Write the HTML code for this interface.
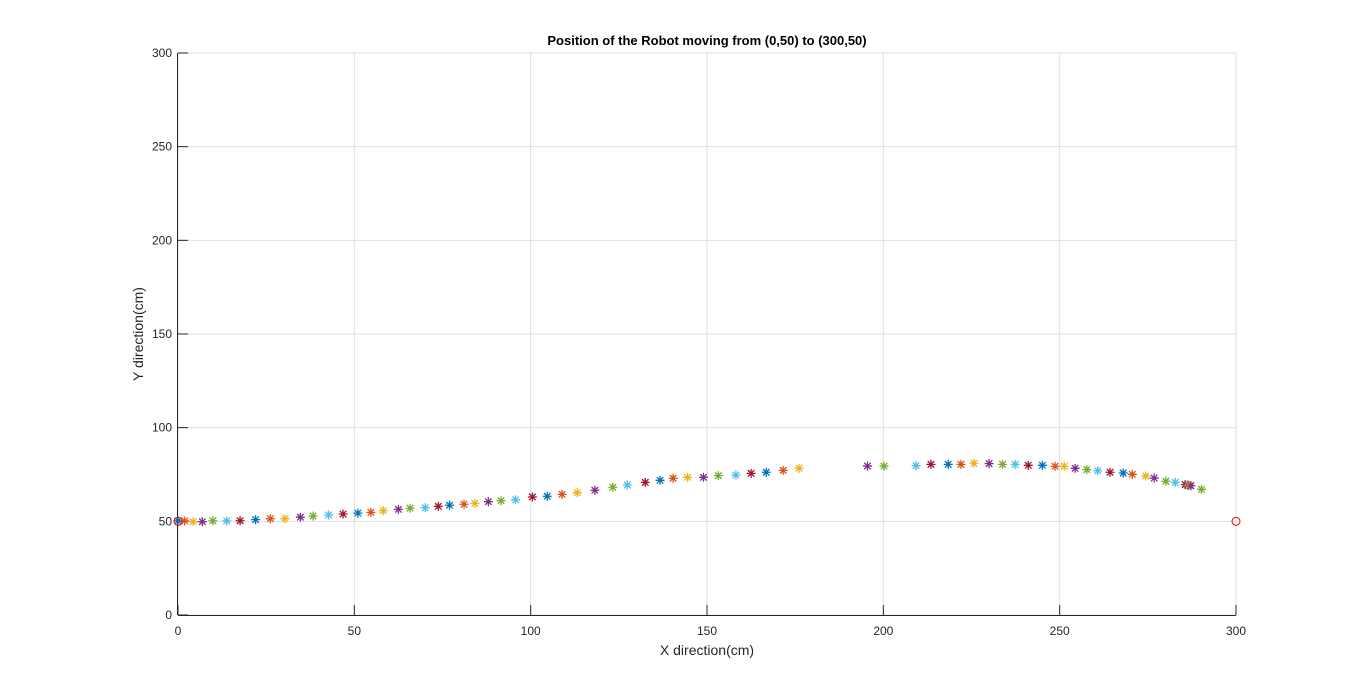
<!DOCTYPE html>
<html><head><meta charset="utf-8"><style>
html,body{margin:0;padding:0;background:#fff;}
svg{display:block;font-family:"Liberation Sans",Arial,sans-serif;}
</style></head><body>
<svg id="chart" width="1366" height="691" viewBox="0 0 1366 691" xmlns="http://www.w3.org/2000/svg">
<rect width="1366" height="691" fill="#fff"/>
<g id="grid"></g>
<g id="axes"></g>
<g id="marks"></g>
<text x="707" y="45" text-anchor="middle" font-size="13" font-weight="bold" fill="#000">Position of the Robot moving from (0,50) to (300,50)</text>
<text x="707" y="655" text-anchor="middle" font-size="14" fill="#262626">X direction(cm)</text>
<text transform="translate(143,334) rotate(-90)" text-anchor="middle" font-size="14" fill="#262626">Y direction(cm)</text>
</svg>
<script>
const xTicks = [0, 50, 100, 150, 200, 250, 300];
const yTicks = [0, 50, 100, 150, 200, 250, 300];
const pathX = [0,1.9,4.3,6.9,9.9,13.8,17.6,22.0,26.2,30.3,34.7,38.3,42.7,46.8,51.0,54.7,58.2,62.5,65.8,70.1,73.8,77.0,81.1,84.2,88.0,91.6,95.7,100.5,104.7,108.9,113.2,118.2,123.3,127.4,132.5,136.7,140.4,144.5,149.0,153.2,158.2,162.5,166.8,171.6,176.1,195.5,200.2,209.3,213.5,218.4,222.0,225.7,230.0,233.8,237.4,241.1,245.1,248.7,251.3,254.4,257.7,260.8,264.3,268.0,270.6,274.4,276.8,280.1,282.8,285.6,286.2,286.5,286.8,287.2,290.2];
const pathY = [50.2,50.2,49.8,49.8,50.3,50.2,50.3,50.9,51.4,51.4,52.2,52.8,53.4,53.9,54.4,54.8,55.7,56.4,57.0,57.3,58.0,58.6,59.1,59.6,60.5,61.0,61.5,63.0,63.4,64.4,65.3,66.6,68.2,69.4,70.8,71.9,73.0,73.5,73.5,74.4,74.7,75.6,76.2,77.2,78.3,79.5,79.5,79.7,80.4,80.4,80.4,81.0,80.8,80.4,80.4,79.9,79.9,79.4,79.4,78.3,77.6,77.0,76.2,75.8,75.1,74.2,73.1,71.4,70.8,69.6,69.3,69.3,69.2,69.0,67.1];
const targetX = [0, 300];
const targetY = [50, 50];
const colors = ['#0072BD','#D95319','#EDB120','#7E2F8E','#77AC30','#4DBEEE','#A2142F'];

const NS = 'http://www.w3.org/2000/svg';
const L = 178, R = 1236, T = 53, B = 615;
const xs = v => L + (v - 0) / 300 * (R - L);
const ys = v => B - (v - 0) / 300 * (B - T);
function mk(tag, attrs, parent){const e=document.createElementNS(NS,tag);for(const k in attrs)e.setAttribute(k,attrs[k]);parent.appendChild(e);return e;}
const grid=document.getElementById('grid'), axes=document.getElementById('axes'), marks=document.getElementById('marks');

xTicks.forEach(t=>{
  const g=mk('line',{x1:xs(t),x2:xs(t),y1:T,y2:B,stroke:'#dfdfdf','stroke-width':1},grid);
  
  
  const tk=mk('line',{x1:xs(t),x2:xs(t),y1:B,y2:B-10,stroke:'#262626','stroke-width':1},axes);
  
  
  const tx=mk('text',{x:xs(t),y:B+20,'text-anchor':'middle','font-size':12,fill:'#262626'},axes);
  tx.textContent=t;
  
  
});
yTicks.forEach(t=>{
  const g=mk('line',{x1:L,x2:R,y1:ys(t),y2:ys(t),stroke:'#dfdfdf','stroke-width':1},grid);
  
  
  const tk=mk('line',{x1:L,x2:L+10,y1:ys(t),y2:ys(t),stroke:'#262626','stroke-width':1},axes);
  
  
  const tx=mk('text',{x:L-6,y:ys(t)+4,'text-anchor':'end','font-size':12,fill:'#262626'},axes);
  tx.textContent=t;
  
  
});
const xa=mk('line',{x1:L,x2:R,y1:B+0.5,y2:B+0.5,stroke:'#262626','stroke-width':1},axes);


const ya=mk('line',{x1:L-0.5,x2:L-0.5,y1:T,y2:B,stroke:'#262626','stroke-width':1},axes);



pathX.forEach((v,i)=>{
  const cx=xs(v), cy=ys(pathY[i]), r=4.5, d=r*0.72;
  const p=mk('path',{d:`M${cx-r},${cy}H${cx+r}M${cx},${cy-r}V${cy+r}M${cx-d},${cy-d}L${cx+d},${cy+d}M${cx-d},${cy+d}L${cx+d},${cy-d}`,stroke:colors[i%colors.length],'stroke-width':1.3,fill:'none'},marks);
  
  
});
targetX.forEach((v,i)=>{
  const c=mk('circle',{cx:xs(v),cy:ys(targetY[i]),r:4,stroke:'#ff0000','stroke-width':1,fill:'none'},marks);
  
  
});
</script>
</body></html>
